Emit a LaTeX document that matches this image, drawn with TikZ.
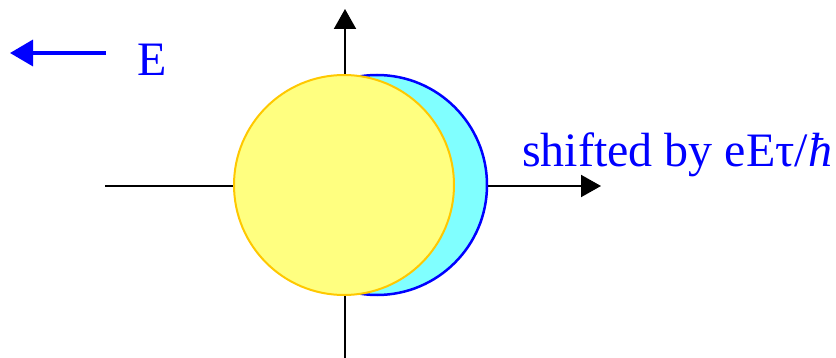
\documentclass[tikz,border=0pt]{standalone}
\usepackage{fontspec}
\setmainfont{Liberation Serif}
\usetikzlibrary{arrows.meta}
\definecolor{cyanfill}{RGB}{128,255,255}
\definecolor{yellowfill}{RGB}{255,255,128}
\definecolor{goldline}{RGB}{255,200,0}
\tikzset{
  axis/.style={line width=2pt, -{Triangle[length=20pt,width=22pt]}},
  label/.style={text=blue, font=\fontsize{48}{50}\selectfont, inner sep=0pt}
}
\begin{document}
\begin{tikzpicture}[x=1pt,y=-1pt]
\useasboundingbox (0,0) rectangle (836,358);
\coordinate (xs) at (105,186);
\coordinate (xe) at (601,186);
\coordinate (ys) at (345,358);
\coordinate (ye) at (345,9);
\draw[axis] (xs) -- (xe);
\draw[axis] (ys) -- (ye);
\draw[blue, line width=2.5pt, fill=cyanfill] (377,185) circle[radius=110pt];
\draw[goldline, line width=2pt, fill=yellowfill] (344,185) circle[radius=110pt];
\coordinate (es) at (106,53);
\coordinate (ee) at (10,53);
\draw[blue, line width=3.5pt, -{Triangle[length=23pt,width=26pt]}] (es) -- (ee);
\node[label, anchor=base west] (elabel) at (137,76) {E};
\node[label, anchor=base west] (shift) at (522,167) {shifted by eEτ/\textit{ħ}};
\end{tikzpicture}
\end{document}
